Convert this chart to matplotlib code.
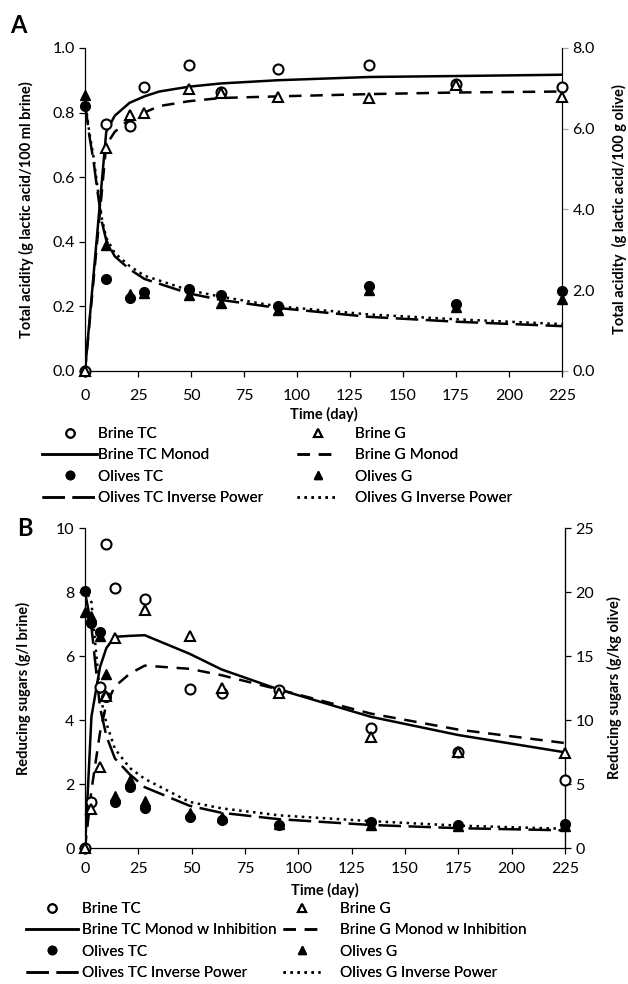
import matplotlib
matplotlib.use("Agg")
import matplotlib.pyplot as plt  # noqa: E402
from matplotlib.lines import Line2D  # noqa: E402

plt.rcParams["font.family"] = ["Lato", "DejaVu Sans"]

# ---------------- panel A: total acidity ----------------
A_t = [0, 10, 21, 28, 49, 64, 91, 134, 175, 225]
A_brine_tc = [0.0, 0.765, 0.759, 0.879, 0.948, 0.865, 0.935, 0.948, 0.888, 0.878]
A_brine_g = [0.0, 0.69, 0.793, 0.80, 0.873, 0.86, 0.847, 0.845, 0.886, 0.847]
# olives on right axis (g lactic acid/100 g olive)
A_olives_tc = [6.57, 2.27, 1.80, 1.96, 2.04, 1.88, 1.60, 2.10, 1.66, 1.97]
A_olives_g = [6.84, 3.12, 1.90, 1.94, 1.88, 1.68, 1.51, 2.00, 1.59, 1.78]

A_fit_t = [0, 10, 14, 21, 28, 35, 49, 64, 91, 134, 175, 225]
A_brine_tc_monod = [0.0, 0.74, 0.79, 0.83, 0.85, 0.865, 0.88, 0.89, 0.90, 0.91, 0.913, 0.917]
A_brine_g_monod = [0.0, 0.70, 0.74, 0.78, 0.80, 0.82, 0.835, 0.845, 0.85, 0.857, 0.862, 0.865]

A_ip_t = [0, 2, 4, 6, 8, 10, 14, 21, 28, 49, 64, 91, 134, 175, 225]
A_olives_tc_ip = [6.64, 5.84, 5.20, 4.40, 3.68, 3.24, 2.84, 2.52, 2.28, 1.92, 1.76, 1.56, 1.34, 1.22, 1.11]
A_olives_g_ip = [6.72, 5.92, 5.30, 4.50, 3.76, 3.30, 2.92, 2.60, 2.36, 2.00, 1.84, 1.60, 1.40, 1.28, 1.16]

# ---------------- panel B: reducing sugars ----------------
B_brine_t = [0, 3, 7, 10, 14, 28, 49, 64, 91, 134, 175, 225]
B_brine_tc = [0.0, 1.45, 5.04, 9.5, 8.14, 7.78, 4.97, 4.83, 4.94, 3.74, 3.01, 2.13]
B_brine_g = [0.0, 1.22, 2.54, 4.75, 6.55, 7.44, 6.64, 4.99, 4.83, 3.48, 2.99, 2.96]

B_olive_t = [0, 3, 7, 10, 14, 21, 28, 49, 64, 91, 134, 175, 225]
# olives on right axis (g/kg olive)
B_olives_tc = [20.1, 17.6, 16.9, 11.8, 3.6, 4.8, 3.1, 2.4, 2.2, 1.8, 2.05, 1.8, 1.9]
B_olives_g = [18.4, 18.1, 16.6, 13.6, 4.1, 5.3, 3.7, 2.7, 2.4, 1.85, 1.8, 1.7, 1.7]

B_fit_t = [0, 3, 7, 10, 14, 21, 28, 49, 64, 91, 134, 175, 225]
B_brine_tc_monod = [0.0, 4.1, 5.65, 6.25, 6.6, 6.63, 6.65, 6.07, 5.58, 4.95, 4.1, 3.53, 2.99]
B_brine_g_monod = [0.0, 1.8, 3.6, 4.5, 5.05, 5.45, 5.7, 5.6, 5.4, 4.95, 4.2, 3.7, 3.28]
B_olives_tc_ip = [20.0, 17.3, 11.0, 8.75, 7.0, 5.75, 4.75, 3.3, 2.75, 2.25, 1.8, 1.55, 1.38]
B_olives_g_ip = [20.3, 19.2, 12.0, 9.75, 7.75, 6.25, 5.4, 3.6, 3.1, 2.55, 2.1, 1.75, 1.5]

X_TICKS = [0, 25, 50, 75, 100, 125, 150, 175, 200, 225]

LW = 1.8
STY = {
    "monod_tc": dict(color="black", lw=LW, ls="-"),
    "monod_g": dict(color="black", lw=LW, ls=(0, (5, 3.5))),
    "ip_tc": dict(color="black", lw=LW, ls=(0, (9, 3))),
    "ip_g": dict(color="black", lw=LW, ls=(0, (1, 1.8))),
}
MK = {
    "brine_tc": dict(marker="o", ms=7.2, mfc="white", mec="black", mew=1.5, ls="none"),
    "brine_g": dict(marker="^", ms=7.2, mfc="white", mec="black", mew=1.5, ls="none"),
    "olives_tc": dict(marker="o", ms=7.0, mfc="black", mec="black", ls="none"),
    "olives_g": dict(marker="^", ms=7.5, mfc="black", mec="black", ls="none"),
}

TICK_FS = 11.5
LAB_FS = 10.5
LEG_FS = 11


def style_axes(ax, ax2, right_color, xpad, xlabpad):
    ax.spines["top"].set_visible(False)
    ax2.spines["top"].set_visible(False)
    ax2.spines["left"].set_visible(False)
    ax2.spines["bottom"].set_visible(False)
    ax2.spines["right"].set_color(right_color)
    for sp in ("left", "bottom"):
        ax.spines[sp].set_linewidth(0.9)
    ax2.spines["right"].set_linewidth(0.9)
    ax.set_xlim(0, 225)
    ax.set_xticks(X_TICKS)
    ax.tick_params(axis="both", direction="out", length=4, width=0.9, labelsize=TICK_FS)
    ax.tick_params(axis="x", pad=xpad)
    ax2.tick_params(axis="y", direction="out", length=4, width=0.9, labelsize=TICK_FS,
                    color=right_color)
    ax.set_xlabel("Time (day)", fontsize=LAB_FS, fontweight="bold", labelpad=xlabpad)


def draw_points(ax, t, vals, key):
    ax.plot(t, vals, **MK[key], clip_on=False, zorder=4)


fig = plt.figure(figsize=(6.28, 9.84), dpi=100)

# ---- panel A ----
axA = fig.add_axes([0.1354, 0.6230, 0.7596, 0.3283])
axA2 = axA.twinx()
axA2.plot(A_ip_t, A_olives_tc_ip, **STY["ip_tc"], zorder=2)
axA2.plot(A_ip_t, A_olives_g_ip, **STY["ip_g"], zorder=2)
draw_points(axA2, A_t, A_olives_tc, "olives_tc")
draw_points(axA2, A_t, A_olives_g, "olives_g")
axA.plot(A_fit_t, A_brine_tc_monod, **STY["monod_tc"])
axA.plot(A_fit_t, A_brine_g_monod, **STY["monod_g"])
draw_points(axA, A_t, A_brine_tc, "brine_tc")
draw_points(axA, A_t, A_brine_g, "brine_g")
axA.set_zorder(axA2.get_zorder() + 1)
axA.patch.set_visible(False)
axA.set_ylim(0, 1.0)
axA.set_yticks([0, 0.2, 0.4, 0.6, 0.8, 1.0])
axA.set_yticklabels([f"{v:.1f}" for v in [0, 0.2, 0.4, 0.6, 0.8, 1.0]])
axA2.set_ylim(0, 8)
axA2.set_yticks([0, 2, 4, 6, 8])
axA2.set_yticklabels([f"{v:.1f}" for v in [0, 2, 4, 6, 8]])
style_axes(axA, axA2, "#a6a6a6", 9, 3)
axA.set_ylabel("Total acidity (g lactic acid/100 ml brine)", fontsize=LAB_FS,
               fontweight="bold", labelpad=13)
axA2.set_ylabel("Total acidity  (g lactic acid/100 g olive)", fontsize=LAB_FS,
                fontweight="bold", labelpad=12)

# ---- panel B ----
axB = fig.add_axes([0.1354, 0.1382, 0.7643, 0.3252])
axB2 = axB.twinx()
axB2.plot(B_fit_t, B_olives_tc_ip, **STY["ip_tc"], zorder=2)
axB2.plot(B_fit_t, B_olives_g_ip, **STY["ip_g"], zorder=2)
draw_points(axB2, B_olive_t, B_olives_tc, "olives_tc")
draw_points(axB2, B_olive_t, B_olives_g, "olives_g")
axB.plot(B_fit_t, B_brine_tc_monod, **STY["monod_tc"])
axB.plot(B_fit_t, B_brine_g_monod, **STY["monod_g"])
draw_points(axB, B_brine_t, B_brine_tc, "brine_tc")
draw_points(axB, B_brine_t, B_brine_g, "brine_g")
axB.set_zorder(axB2.get_zorder() + 1)
axB.patch.set_visible(False)
axB.set_ylim(0, 10)
axB.set_yticks([0, 2, 4, 6, 8, 10])
axB2.set_ylim(0, 25)
axB2.set_yticks([0, 5, 10, 15, 20, 25])
style_axes(axB, axB2, "black", 6, 5)
axB.set_ylabel("Reducing sugars (g/l brine)", fontsize=LAB_FS, fontweight="bold", labelpad=18)
axB2.set_ylabel("Reducing sugars (g/kg olive)", fontsize=LAB_FS, fontweight="bold", labelpad=9)

fig.text(0.016, 0.986, "A", fontsize=17, fontweight="bold", va="top", ha="left")
fig.text(0.027, 0.475, "B", fontsize=17, fontweight="bold", va="top", ha="left")


def handles():
    mk = {k: dict(v) for k, v in MK.items()}
    for v in mk.values():
        v["ms"] = 6
    return {
        "brine_tc": Line2D([], [], **mk["brine_tc"]),
        "brine_g": Line2D([], [], **mk["brine_g"]),
        "olives_tc": Line2D([], [], **mk["olives_tc"]),
        "olives_g": Line2D([], [], **mk["olives_g"]),
        "monod_tc": Line2D([], [], **STY["monod_tc"]),
        "monod_g": Line2D([], [], **STY["monod_g"]),
        "ip_tc": Line2D([], [], **STY["ip_tc"]),
        "ip_g": Line2D([], [], **STY["ip_g"]),
    }


def legend_col(keys, labels, x, y, hl_px, pad_px):
    h = handles()
    em = LEG_FS * 100 / 72
    leg = fig.legend([h[k] for k in keys], labels, loc="upper left",
                     bbox_to_anchor=(x, y), bbox_transform=fig.transFigure,
                     frameon=False, fontsize=LEG_FS, handlelength=hl_px / em,
                     handletextpad=pad_px / em,
                     labelspacing=0.48, borderpad=0, borderaxespad=0)
    fig.add_artist(leg)


legend_col(["brine_tc", "monod_tc", "olives_tc", "ip_tc"],
           ["Brine TC", "Brine TC Monod", "Olives TC", "Olives TC Inverse Power"],
           42 / 628, 1 - 427 / 984, 55, 1)
legend_col(["brine_g", "monod_g", "olives_g", "ip_g"],
           ["Brine G", "Brine G Monod", "Olives G", "Olives G Inverse Power"],
           297 / 628, 1 - 427 / 984, 41, 17)
legend_col(["brine_tc", "monod_tc", "olives_tc", "ip_tc"],
           ["Brine TC", "Brine TC Monod w Inhibition", "Olives TC", "Olives TC Inverse Power"],
           26 / 628, 1 - 902 / 984, 52, 4)
legend_col(["brine_g", "monod_g", "olives_g", "ip_g"],
           ["Brine G", "Brine G Monod w Inhibition", "Olives G", "Olives G Inverse Power"],
           283 / 628, 1 - 902 / 984, 37, 20)

fig.savefig("out.png", dpi=100)
